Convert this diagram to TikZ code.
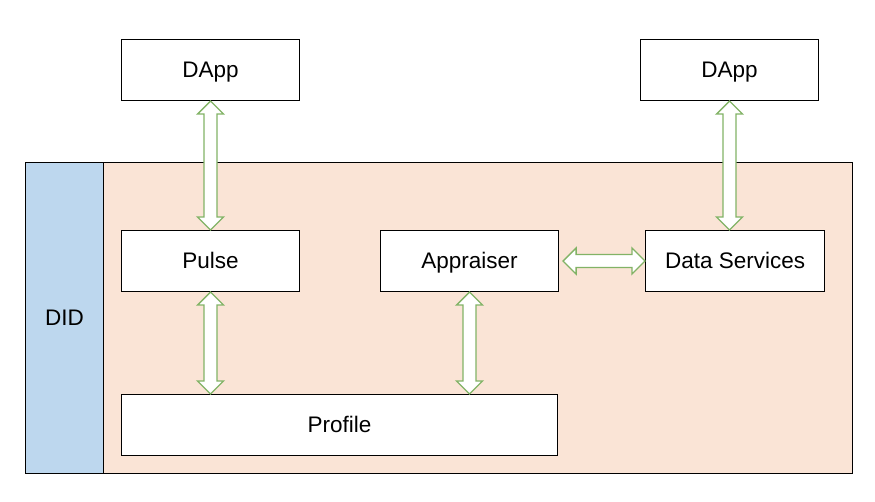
\documentclass[tikz,border=0pt]{standalone}
\usepackage{fontspec}
\setmainfont{Liberation Sans}
\usetikzlibrary{calc}
\definecolor{pinkbg}{HTML}{FAE4D6}
\definecolor{bluebg}{HTML}{BDD7EE}
\definecolor{arrgreen}{HTML}{82B366}
\tikzset{
  box/.style={draw=black, line width=1.1pt, fill=white, inner sep=0pt, text height=17pt, text depth=2pt, font=\fontsize{22.5}{26}\selectfont},
  region/.style={draw=black, line width=1.1pt, inner sep=0pt, text height=17pt, text depth=2pt, font=\fontsize{22.5}{26}\selectfont},
  fatarrow/.style={draw=arrgreen, fill=white, line width=1.3pt, line join=miter}
}
\newcommand{\vdarrow}[2]{%
  \path[fatarrow] let \p1=#1, \p2=#2 in
    (\x1,\y1) -- ++(13pt,-13pt) -- ++(-6.5pt,0) -- (\x1+6.5pt,\y2+13pt) -- ++(6.5pt,0)
    -- (\x1,\y2) -- ++(-13pt,13pt) -- ++(6.5pt,0) -- (\x1-6.5pt,\y1-13pt) -- ++(-6.5pt,0) -- cycle;}
\newcommand{\hdarrow}[2]{%
  \path[fatarrow] let \p1=#1, \p2=#2 in
    (\x1,\y1) -- ++(13pt,13pt) -- ++(0,-6.5pt) -- (\x2-13pt,\y1+6.5pt) -- ++(0,6.5pt)
    -- (\x2,\y1) -- ++(-13pt,-13pt) -- ++(0,6.5pt) -- (\x1+13pt,\y1-6.5pt) -- ++(0,-6.5pt) -- cycle;}
\begin{document}
\begin{tikzpicture}[x=1pt,y=-1pt]
\useasboundingbox (0,0) rectangle (875,502);
% regions
\node[region, fill=pinkbg, minimum width=749pt, minimum height=311pt, anchor=north west] (core) at (103,162) {};
\node[region, fill=bluebg, minimum width=78pt, minimum height=311pt, anchor=north west] (did) at (25,162) {DID};
% boxes
\node[box, minimum width=178pt, minimum height=61pt, anchor=north west] (dapp1) at (121,39) {DApp};
\node[box, minimum width=178pt, minimum height=61pt, anchor=north west] (dapp2) at (640,39) {DApp};
\node[box, minimum width=178pt, minimum height=61pt, anchor=north west] (pulse) at (121,230) {Pulse};
\node[box, minimum width=178pt, minimum height=61pt, anchor=north west] (appr) at (380,230) {Appraiser};
\node[box, minimum width=179pt, minimum height=61pt, anchor=north west] (ds) at (645,230) {Data Services};
\node[box, minimum width=436pt, minimum height=61pt, anchor=north west] (profile) at (121,394) {Profile};
% arrows
\vdarrow{(dapp1.south)}{(pulse.north)}
\vdarrow{(pulse.south)}{(pulse.south |- profile.north)}
\vdarrow{(appr.south)}{(appr.south |- profile.north)}
\vdarrow{(dapp2.south)}{(dapp2.south |- ds.north)}
\hdarrow{($(appr.east)+(4,0)$)}{(ds.west)}
\end{tikzpicture}
\end{document}
